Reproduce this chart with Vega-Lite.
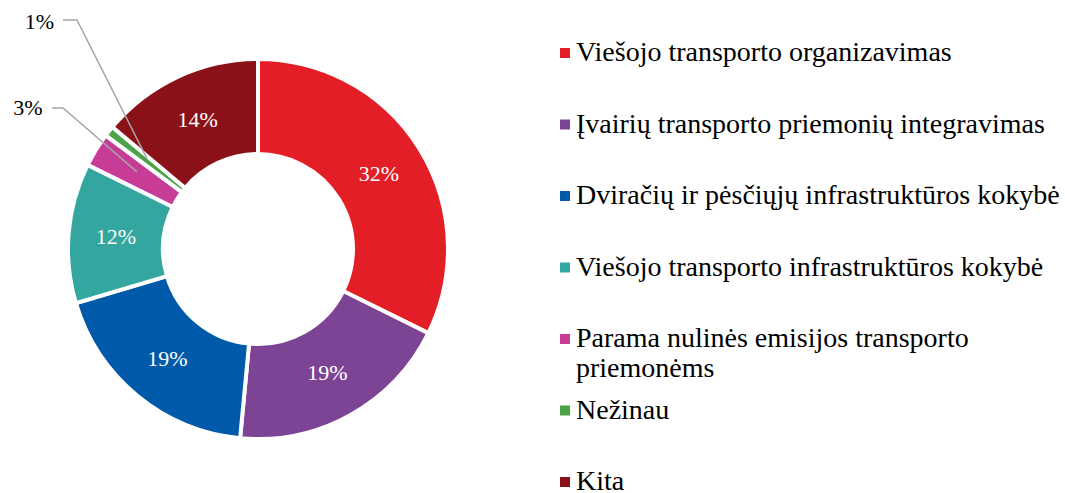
{
  "$schema": "https://vega.github.io/schema/vega-lite/v6.json",
  "width": 516,
  "height": 498,
  "padding": 0,
  "background": "white",
  "config": {"view": {"stroke": null}, "font": "Liberation Serif"},
  "datasets": {
    "shares": [
      {"category": "Viešojo transporto organizavimas", "pct": 0.323, "n": 1},
      {"category": "Įvairių transporto priemonių integravimas", "pct": 0.192, "n": 2},
      {"category": "Dviračių ir pėsčiųjų infrastruktūros kokybė", "pct": 0.189, "n": 3},
      {"category": "Viešojo transporto infrastruktūros kokybė", "pct": 0.119, "n": 4},
      {"category": "Parama nulinės emisijos transporto priemonėms", "pct": 0.029, "n": 5},
      {"category": "Nežinau", "pct": 0.009, "n": 6},
      {"category": "Kita", "pct": 0.139, "n": 7}
    ],
    "leaders": [
      {"leader": "1%", "px": -1.037, "py": 1.218},
      {"leader": "1%", "px": -0.963, "py": 1.218},
      {"leader": "1%", "px": -0.590, "py": 0.479},
      {"leader": "3%", "px": -1.096, "py": 0.750},
      {"leader": "3%", "px": -1.037, "py": 0.750},
      {"leader": "3%", "px": -0.644, "py": 0.410}
    ]
  },
  "layer": [
    {
      "data": {"name": "shares"},
      "mark": {"type": "arc", "outerRadius": 190, "innerRadius": 95, "stroke": "white", "strokeWidth": 4},
      "encoding": {
        "theta": {"field": "pct", "type": "quantitative", "stack": true},
        "order": {"field": "n", "type": "quantitative"},
        "color": {
          "field": "category",
          "type": "nominal",
          "scale": {
            "domain": [
              "Viešojo transporto organizavimas",
              "Įvairių transporto priemonių integravimas",
              "Dviračių ir pėsčiųjų infrastruktūros kokybė",
              "Viešojo transporto infrastruktūros kokybė",
              "Parama nulinės emisijos transporto priemonėms",
              "Nežinau",
              "Kita"
            ],
            "range": ["#E31E27", "#7D4496", "#0059A9", "#33A69F", "#C73C96", "#4CA246", "#8B1119"]
          },
          "legend": {
            "title": null,
            "orient": "none",
            "legendX": 551,
            "legendY": 39,
            "padding": 0,
            "symbolType": "square",
            "symbolSize": 100,
            "symbolStrokeWidth": 0,
            "symbolOpacity": 1,
            "labelFont": "Liberation Serif",
            "labelFontSize": 28,
            "labelColor": "#000000",
            "labelLimit": 600,
            "labelOffset": -3,
            "labelBaseline": "middle",
            "rowPadding": 13.5,
            "gridAlign": "all",
            "labelExpr": "datum.label === 'Parama nulinės emisijos transporto priemonėms' ? ['Parama nulinės emisijos transporto', 'priemonėms'] : datum.label"
          }
        }
      }
    },
    {
      "data": {"name": "shares"},
      "mark": {"type": "text", "clip": true, "radius": 142.5, "font": "Liberation Serif", "fontSize": 22, "color": "white", "align": "center", "baseline": "middle"},
      "encoding": {
        "theta": {"field": "pct", "type": "quantitative", "stack": true},
        "order": {"field": "n", "type": "quantitative"},
        "detail": {"field": "category", "type": "nominal"},
        "text": {"condition": {"test": "datum.pct >= 0.05", "field": "pct", "type": "quantitative", "format": ".0%"}, "value": ""}
      }
    },
    {
      "data": {"name": "shares"},
      "mark": {"type": "text", "clip": true, "radius": 270, "font": "Liberation Serif", "fontSize": 22, "color": "black", "align": "center", "baseline": "middle"},
      "encoding": {
        "theta": {"field": "pct", "type": "quantitative", "stack": true},
        "order": {"field": "n", "type": "quantitative"},
        "detail": {"field": "category", "type": "nominal"},
        "text": {"condition": {"test": "datum.n === 5", "field": "pct", "type": "quantitative", "format": ".0%"}, "value": ""}
      }
    },
    {
      "data": {"name": "shares"},
      "mark": {"type": "text", "clip": true, "radius": 315, "thetaOffset": 0.135, "font": "Liberation Serif", "fontSize": 22, "color": "black", "align": "center", "baseline": "middle"},
      "encoding": {
        "theta": {"field": "pct", "type": "quantitative", "stack": true},
        "order": {"field": "n", "type": "quantitative"},
        "detail": {"field": "category", "type": "nominal"},
        "text": {"condition": {"test": "datum.n === 6", "field": "pct", "type": "quantitative", "format": ".0%"}, "value": ""}
      }
    },
    {
      "data": {"name": "leaders"},
      "mark": {"type": "line", "color": "#A6A6A6", "strokeWidth": 1.5},
      "encoding": {
        "x": {"field": "px", "type": "quantitative", "scale": {"domain": [-1.3723, 1.3723], "nice": false, "zero": false}, "axis": null},
        "y": {"field": "py", "type": "quantitative", "scale": {"domain": [-1.3245, 1.3245], "nice": false, "zero": false}, "axis": null},
        "detail": {"field": "leader", "type": "nominal"}
      }
    }
  ]
}
